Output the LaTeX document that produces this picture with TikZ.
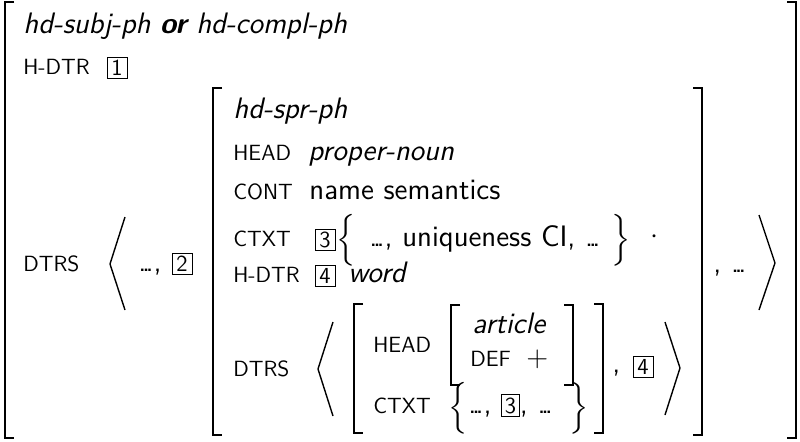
\documentclass[tikz,border=0pt]{standalone}
\usepackage{amsmath}
\newcommand{\mydots}{.\kern-0.15em.\kern-0.15em.}
\newcommand{\tg}[1]{{\setlength{\fboxsep}{1.3pt}\setlength{\fboxrule}{0.5pt}\fbox{\fontsize{11.5}{13}\selectfont\sffamily #1}}}
\tikzset{
  brk/.style={line width=1.1pt},
  ang/.style={line width=0.7pt},
  mainf/.style={font=\fontsize{14.8}{17}\selectfont\sffamily, inner sep=0pt, anchor=base west},
  typf/.style={font=\fontsize{14.8}{17}\selectfont\sffamily\itshape, inner sep=0pt, anchor=base west},
  feat/.style={font=\fontsize{11}{13}\selectfont\sffamily, inner sep=0pt, anchor=base west},
  tag/.style={draw, line width=0.5pt, font=\fontsize{11.5}{13}\selectfont\sffamily, inner sep=0pt, minimum width=10pt, minimum height=10.5pt},
  brc/.style={inner sep=0pt, font=\fontsize{14.8}{17}\selectfont, anchor=base},
}
\newcommand{\lbr}{\smash{$\Big\{$}}
\newcommand{\rbr}{\smash{$\Big\}$}}
\begin{document}
\begin{tikzpicture}[x=0.5pt,y=-0.5pt]
\useasboundingbox (0,0) rectangle (800,441);
% outer brackets
\draw[brk] (14,2) -- (5,2) -- (5,438) -- (14,438);
\draw[brk] (787,2) -- (796,2) -- (796,438) -- (787,438);
\node[typf] (t0) at (23,33) {hd-subj-ph \textbf{or} hd-compl-ph};
\node[feat] (hd0) at (23,74) {H-DTR};
\node[tag] (b1) at (117,68) {1};
\node[feat] (dt0) at (23,271) {DTRS};
\draw[ang] (125,217) -- (110,264) -- (125,310);
\node[mainf] (d0) at (138,271) {\mydots,};
\node[tag] (b2) at (182,264) {2};
% inner AVM brackets
\draw[brk] (222,88) -- (213,88) -- (213,435) -- (222,435);
\draw[brk] (693,88) -- (702,88) -- (702,435) -- (693,435);
\node[typf] (t1) at (233,118) {hd-spr-ph};
\node[feat] (head1) at (233,160) {HEAD};
\node[typf] (pn) at (308,160) {proper-noun};
\node[feat] (cont1) at (233,199) {CONT};
\node[mainf] (ns) at (309,199) {name semantics};
\node[feat] (ctxt1) at (233,246) {CTXT};
\node[tag] (b3a) at (325,240) {3};
\node[brc] (lb1) at (346,247) {\lbr};
\node[mainf] (uq) at (369,246) {\mydots, uniqueness CI, \mydots};
\node[brc] (rb1) at (621,247) {\rbr};
\node[inner sep=0pt, font=\fontsize{14.8}{17}\selectfont] (dt) at (654,237) {$\cdot$};
\node[feat] (hd1) at (233,282) {H-DTR};
\node[tag] (b4a) at (325,276) {4};
\node[typf] (w) at (348,282) {word};
\node[feat] (dt1) at (233,376) {DTRS};
\draw[ang] (333,322) -- (318,369) -- (333,416);
% list element brackets
\draw[brk] (363,304) -- (354,304) -- (354,433) -- (363,433);
\draw[brk] (594,304) -- (603,304) -- (603,433) -- (594,433);
\node[feat] (head2) at (373,352) {HEAD};
\draw[brk] (460,305) -- (451,305) -- (451,385) -- (460,385);
\draw[brk] (564,305) -- (573,305) -- (573,385) -- (564,385);
\node[typf] (art) at (472,333) {article};
\node[feat] (def) at (470,366) {DEF};
\node[mainf] (plus) at (526,366) {$+$};
\node[feat] (ctxt2) at (373,413) {CTXT};
\node[brc] (lb2) at (458,415) {\lbr};
\node[mainf] (d2) at (468,413) {\mydots, \tg{3}, \mydots};
\node[brc] (rb2) at (579,415) {\rbr};
\node[mainf] (c4) at (612,372) {,};
\node[tag] (b4b) at (643,367) {4};
\draw[ang] (665,322) -- (680,368) -- (665,415);
\node[mainf] (d4) at (713,272) {, \mydots};
\draw[ang] (759,215) -- (775,263) -- (759,310);
\end{tikzpicture}
\end{document}
